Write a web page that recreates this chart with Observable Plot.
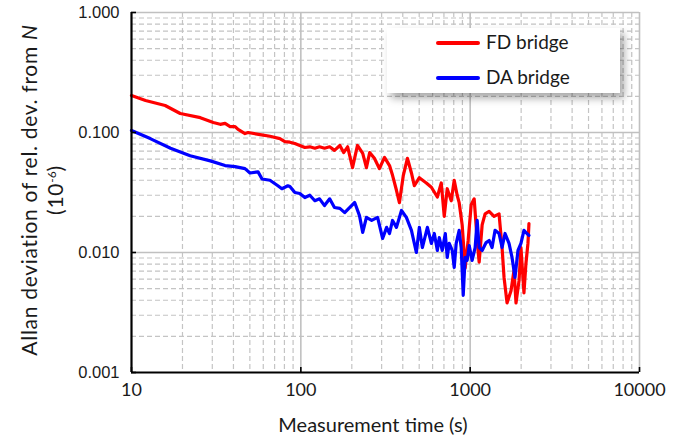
<!DOCTYPE html>
<html>
<head>
<meta charset="utf-8">
<script src="https://cdn.jsdelivr.net/npm/d3@7"></script>
<script src="https://cdn.jsdelivr.net/npm/@observablehq/plot@0.6"></script>
<style>
  html, body { margin: 0; padding: 0; background: #fff; }
  #chart { position: relative; width: 684px; height: 441px; overflow: hidden; }
  #chart svg { position: absolute; left: 0; top: 0; }
  .ytitle {
    position: absolute; left: 42px; top: 190px; width: 380px;
    transform: translate(-50%, -50%) rotate(-90deg);
    text-align: center; font-family: Lato, sans-serif; font-size: 21px; letter-spacing: 0.7px;
    line-height: 26px; color: #1a1a1a; white-space: nowrap;
  }
  .ytitle sup { font-size: 12px; vertical-align: 7px; line-height: 0; letter-spacing: 0; }
  .xtitle {
    position: absolute; left: 373px; top: 424px; transform: translate(-50%, -50%);
    font-family: Lato, sans-serif; font-size: 20px; color: #1a1a1a; white-space: nowrap;
  }
  .legend {
    position: absolute; left: 387px; top: 28px; width: 233px; height: 65px;
    background: #fff; box-shadow: 4px 5px 8px rgba(0, 0, 0, 0.35);
    font-family: Lato, sans-serif; font-size: 19px; color: #1a1a1a;
  }
  .legend .item { position: absolute; left: 49px; height: 20px; }
  .legend .swatch { position: absolute; left: 0; top: 8px; width: 44px; height: 4px; border-radius: 2px; }
  .legend .name { position: absolute; left: 50px; top: -3px; white-space: nowrap; }
</style>
</head>
<body>
<div id="chart"></div>
<script>
// Axis ticks and their printed labels
const xTicks = [10, 100, 1000, 10000];
const xTickLabels = ["10", "100", "1000", "10000"];
const yTicks = [0.001, 0.01, 0.1, 1];
const yTickLabels = ["0.001", "0.010", "0.100", "1.000"];

// Series names and colours
const seriesNames = ["FD bridge", "DA bridge"];
const seriesColors = ["#ff0000", "#0000ff"];

// FD bridge: averaging time (s) and Allan deviation (10^-6)
const fdTime = [10, 12.1, 15.8, 19.4, 25.5, 30.4, 33.4, 35.7, 38.2, 40.9, 42.6, 46.8, 48.8, 57.4, 65.7,
  75.2, 80.5, 86.2, 92.2, 98.6, 105.6, 113, 121, 129, 138, 148, 158, 170, 179, 189, 202, 216, 232,
  244, 255, 272, 291, 312, 334, 348, 367, 382, 403, 426, 450, 468, 501, 551, 590, 640, 675, 703, 732,
  773, 805, 838, 861, 897, 934, 973, 1014, 1056, 1100, 1130, 1177, 1225, 1294, 1384, 1481, 1543,
  1585, 1651, 1743, 1815, 1865, 1943, 1995, 2078, 2135, 2194, 2224];
const fdDev = [0.203, 0.185, 0.168, 0.144, 0.133, 0.121, 0.117, 0.119, 0.112, 0.112, 0.106, 0.098,
  0.100, 0.096, 0.093, 0.089, 0.084, 0.083, 0.081, 0.078, 0.075, 0.076, 0.074, 0.076, 0.074, 0.076,
  0.071, 0.078, 0.068, 0.076, 0.051, 0.078, 0.067, 0.051, 0.068, 0.061, 0.050, 0.062, 0.053, 0.044,
  0.033, 0.026, 0.044, 0.061, 0.046, 0.036, 0.042, 0.038, 0.035, 0.029, 0.038, 0.020, 0.034, 0.027,
  0.040, 0.030, 0.026, 0.017, 0.0074, 0.0126, 0.025, 0.028, 0.0126, 0.0083, 0.017, 0.021, 0.022,
  0.020, 0.021, 0.011, 0.0062, 0.0038, 0.0048, 0.0071, 0.0038, 0.0058, 0.011, 0.0046, 0.0081,
  0.0119, 0.0174];

// DA bridge: averaging time (s) and Allan deviation (10^-6)
const daTime = [10, 12.9, 17.0, 22.2, 29.2, 35.7, 40.9, 46.8, 50.1, 55.9, 59.0, 65.7, 73.2, 77.3,
  83.8, 86.2, 92.2, 98.6, 105.6, 113, 121, 129, 138, 148, 158, 170, 181.5, 194, 208, 222, 232, 244,
  262, 284, 304, 321, 334, 348, 367, 393, 420, 450, 481, 501, 522, 559, 590, 614, 640, 657, 684, 713,
  732, 752, 784, 805, 827, 861, 885, 910, 934, 960, 987, 1027, 1070, 1100, 1130, 1177, 1242, 1294,
  1347, 1403, 1481, 1543, 1607, 1696, 1767, 1840, 1916, 1995, 2078, 2164, 2224];
const daDev = [0.104, 0.089, 0.074, 0.064, 0.058, 0.053, 0.052, 0.050, 0.046, 0.047, 0.041, 0.040,
  0.036, 0.034, 0.036, 0.0355, 0.0316, 0.031, 0.0287, 0.030, 0.027, 0.028, 0.0246, 0.028, 0.0237,
  0.0233, 0.0215, 0.0237, 0.0261, 0.0203, 0.0147, 0.0196, 0.0185, 0.0196, 0.0131, 0.0162, 0.0144,
  0.0185, 0.0162, 0.0224, 0.0196, 0.0153, 0.0100, 0.0162, 0.0110, 0.0162, 0.0119, 0.0144, 0.0104,
  0.0133, 0.0104, 0.0144, 0.0091, 0.0119, 0.0104, 0.0075, 0.0119, 0.0153, 0.0110, 0.0044, 0.0091,
  0.0086, 0.0114, 0.0086, 0.0110, 0.0185, 0.0110, 0.0104, 0.0121, 0.0126, 0.0110, 0.0153, 0.0144,
  0.0110, 0.0144, 0.0119, 0.0091, 0.0062, 0.0104, 0.0119, 0.0153, 0.0144, 0.0139];

const fd = fdTime.map((t, i) => ({t, v: fdDev[i]}));
const da = daTime.map((t, i) => ({t, v: daDev[i]}));

// Minor grid positions: 2..9 within each decade
const minors = (majors) => majors.slice(0, -1).flatMap(m => d3.range(2, 10).map(k => k * m));
const xMinor = minors(xTicks);
const yMinor = minors(yTicks);

const xLabelRows = xTicks.map((x, i) => ({x, label: xTickLabels[i]}));
const yLabelRows = yTicks.map((y, i) => ({y, label: yTickLabels[i]}));

const plot = Plot.plot({
  width: 684,
  height: 441,
  marginLeft: 131,
  marginRight: 45,
  marginTop: 12,
  marginBottom: 69,
  style: {background: "transparent", overflow: "visible"},
  x: {type: "log", domain: [10, 10000], axis: null},
  y: {type: "log", domain: [0.001, 1], axis: null},
  marks: [
    // dashed minor grid
    Plot.ruleX(xMinor, {stroke: "#c4c4c4", strokeWidth: 1.2, strokeDasharray: "5,3"}),
    Plot.ruleY(yMinor, {stroke: "#c4c4c4", strokeWidth: 1.2, strokeDasharray: "5,3"}),
    // solid decade grid
    Plot.ruleX(xTicks.slice(1), {stroke: "#c0c0c0", strokeWidth: 1.6}),
    Plot.ruleY(yTicks.slice(1), {stroke: "#c0c0c0", strokeWidth: 1.6}),
    // series
    Plot.line(fd, {x: "t", y: "v", stroke: seriesColors[0], strokeWidth: 3.2, strokeLinejoin: "round"}),
    Plot.line(da, {x: "t", y: "v", stroke: seriesColors[1], strokeWidth: 3.2, strokeLinejoin: "round"}),
    // axis lines
    Plot.ruleX([10], {stroke: "#000", strokeWidth: 2.2}),
    Plot.ruleY([0.001], {stroke: "#000", strokeWidth: 2.2}),
    // short inward ticks at the decades
    Plot.ruleX(xTicks, {y1: 1, y2: 0.001, insetTop: 355, stroke: "#000", strokeWidth: 1.6}),
    Plot.ruleY(yTicks, {x1: 10, x2: 10000, insetRight: 503, stroke: "#000", strokeWidth: 1.6}),
    // tick labels
    Plot.text(xLabelRows, {x: "x", frameAnchor: "bottom", text: "label", dy: 23,
      fontSize: 18, fontFamily: "Lato", fill: "#1a1a1a"}),
    Plot.text(yLabelRows, {y: "y", frameAnchor: "left", text: "label", textAnchor: "end", dx: -12,
      fontSize: 16.5, fontFamily: "Liberation Sans", fill: "#1a1a1a"})
  ]
});

const chart = document.getElementById("chart");
chart.appendChild(plot);

// axis titles
const yTitle = document.createElement("div");
yTitle.className = "ytitle";
yTitle.innerHTML = "Allan deviation of rel. dev. from <i>N</i><br>(10<sup>-6</sup>)";
chart.appendChild(yTitle);

const xTitle = document.createElement("div");
xTitle.className = "xtitle";
xTitle.textContent = "Measurement time (s)";
chart.appendChild(xTitle);

// legend box
const legend = document.createElement("div");
legend.className = "legend";
seriesNames.forEach((name, i) => {
  const item = document.createElement("div");
  item.className = "item";
  item.style.top = (i === 0 ? 5 : 40) + "px";
  const sw = document.createElement("div");
  sw.className = "swatch";
  sw.style.background = seriesColors[i];
  const label = document.createElement("div");
  label.className = "name";
  label.textContent = name;
  item.appendChild(sw);
  item.appendChild(label);
  legend.appendChild(item);
});
chart.appendChild(legend);
</script>
</body>
</html>
